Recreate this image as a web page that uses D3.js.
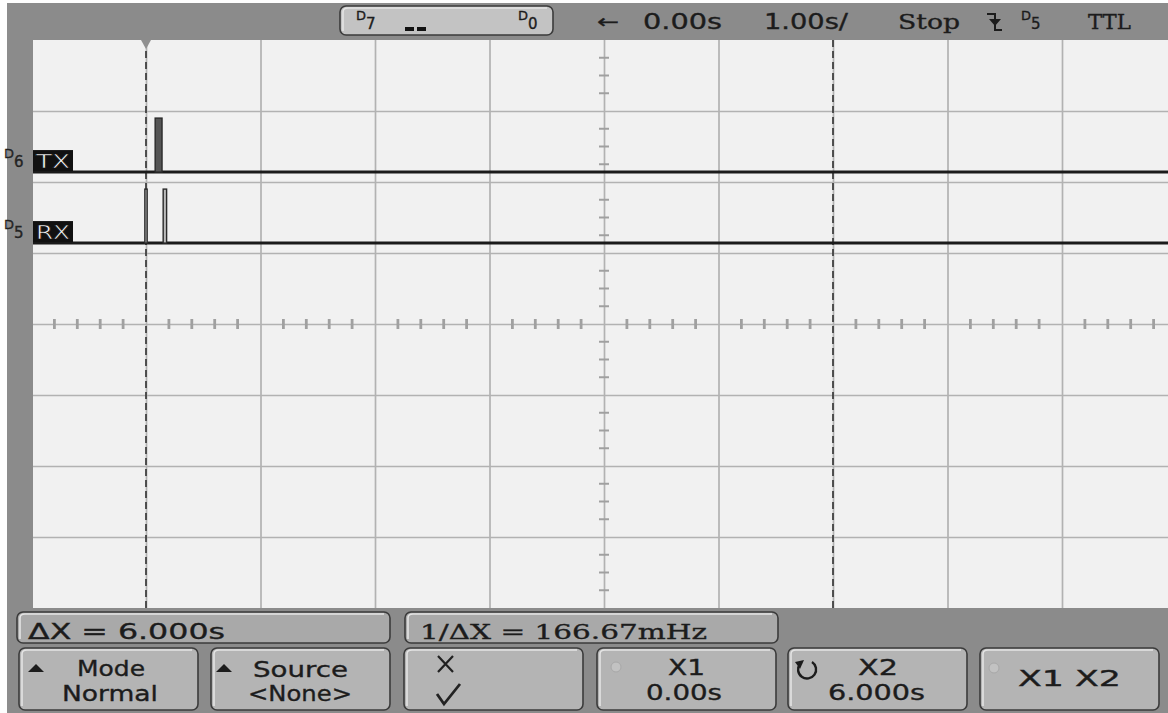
<!DOCTYPE html>
<html>
<head>
<meta charset="utf-8">
<script src="https://cdn.jsdelivr.net/npm/d3@7"></script>
<style>
  html, body { margin: 0; padding: 0; background: #fff; }
  svg { display: block; }
  text { font-family: "DejaVu Sans", sans-serif; fill: #1c1c1c; stroke: #1c1c1c; stroke-width: 0.35px; }
</style>
</head>
<body>
<div id="scope"></div>
<script>
'use strict'

// ---------- data ----------
const channelIds = ['6', '5']            // D6, D5
const channelNames = ['TX', 'RX']
// pulse edges (rise, fall) in seconds for each channel
const txPulses = [[0.08, 0.14]]
const rxPulses = [[-0.01, 0.01], [0.15, 0.18]]
const pulses = [txPulses, rxPulses]
const cursorTimes = [0, 6]               // X1, X2
const timeDomain = [-1, 9]               // 10 divisions at 1.00 s/div
const vertDomain = [-4, 4]               // 8 divisions
const topReadout = { delay: '0.00s', timebase: '1.00s/', state: 'Stop', trigSrc: '5', level: 'TTL' }
const deltaText = 'ΔX = 6.000s'
const freqText = '1/ΔX = 166.67mHz'
const softkeys = [
  ['Mode', 'Normal'], ['Source', '<None>'], ['', ''],
  ['X1', '0.00s'], ['X2', '6.000s'], ['X1 X2', '']
]

let draw = ((selector = '#scope') => {

    const W = 1168, H = 713
    const plot = { left: 31.5, right: 1176.5, top: 40, bottom: 608 }

    const svg = d3.select(selector).append('svg')
        .attr('width', W).attr('height', H)

    const x = d3.scaleLinear().domain(timeDomain).range([plot.left, plot.right])
    const y = d3.scaleLinear().domain(vertDomain).range([plot.bottom, plot.top])

    // ---------- frame ----------
    svg.append('rect').attr('width', W).attr('height', H).attr('fill', '#fdfdfd')
    svg.append('rect').attr('x', 7).attr('y', 3).attr('width', W - 7).attr('height', H - 3).attr('fill', '#8b8b8b')

    svg.append('clipPath').attr('id', 'plotclip')
        .append('rect').attr('x', 33).attr('y', plot.top)
        .attr('width', W - 33).attr('height', plot.bottom - plot.top)

    const g = svg.append('g').attr('clip-path', 'url(#plotclip)')
    g.append('rect').attr('x', 33).attr('y', plot.top)
        .attr('width', W - 33).attr('height', plot.bottom - plot.top)
        .attr('fill', '#f1f1f1')

    // ---------- grid ----------
    const gridX = d3.axisBottom(x).tickValues(d3.range(timeDomain[0] + 1, timeDomain[1] + 1))
        .tickSize(-(plot.bottom - plot.top)).tickFormat('')
    g.append('g').attr('transform', `translate(0,${plot.bottom})`).call(gridX)
        .call(a => a.select('.domain').remove())
        .selectAll('line').attr('stroke', '#b2b2b2').attr('stroke-width', 1.7)

    const gridY = d3.axisLeft(y).tickValues(d3.range(vertDomain[0] + 1, vertDomain[1]))
        .tickSize(-(W - plot.left)).tickFormat('')
    g.append('g').attr('transform', `translate(${plot.left},0)`).call(gridY)
        .call(a => a.select('.domain').remove())
        .selectAll('line').attr('stroke', '#b2b2b2').attr('stroke-width', 1.7)

    // centre axes with minor ticks
    const xMid = (timeDomain[0] + timeDomain[1]) / 2
    const minorX = d3.range(timeDomain[0], timeDomain[1] + 0.01, 0.2).filter(v => Math.abs(v - Math.round(v)) > 0.01)
    g.selectAll('.mx').data(minorX).join('line')
        .attr('x1', d => x(d)).attr('x2', d => x(d))
        .attr('y1', y(0) - 5).attr('y2', y(0) + 5)
        .attr('stroke', '#a0a0a0').attr('stroke-width', 2.8)
    const minorY = d3.range(vertDomain[0], vertDomain[1] + 0.01, 0.25).filter(v => Math.abs(v - Math.round(v)) > 0.01)
    g.selectAll('.my').data(minorY).join('line')
        .attr('x1', x(xMid) - 5).attr('x2', x(xMid) + 5)
        .attr('y1', d => y(d)).attr('y2', d => y(d))
        .attr('stroke', '#a0a0a0').attr('stroke-width', 2)

    // cursors
    g.selectAll('.cursor').data(cursorTimes).join('line')
        .attr('x1', d => x(d)).attr('x2', d => x(d))
        .attr('y1', plot.top).attr('y2', plot.bottom)
        .attr('stroke', '#3a3a3a').attr('stroke-width', 1.7)
        .attr('stroke-dasharray', '7,4')

    // trigger position marker
    svg.append('path')
        .attr('d', `M${x(0) - 5},${plot.top} L${x(0) + 5},${plot.top} L${x(0)},${plot.top + 9} Z`)
        .attr('fill', '#909090')

    // ---------- digital traces ----------
    const basePos = d => 2.14 - d        // division position of each channel's low level
    const high = 0.76                    // logic high in divisions above low

    channelNames.forEach((name, i) => {
        const lo = y(basePos(i)), hi = y(basePos(i) + high)
        g.append('line')
            .attr('x1', 33).attr('x2', W)
            .attr('y1', lo).attr('y2', lo)
            .attr('stroke', '#1a1a1a').attr('stroke-width', 3)
        g.selectAll(`.p${i}`).data(pulses[i]).join('rect')
            .attr('x', d => x(d[0])).attr('y', hi)
            .attr('width', d => Math.max(1.5, x(d[1]) - x(d[0])))
            .attr('height', lo - hi)
            .attr('fill', i === 0 ? '#555' : '#bbb')
            .attr('stroke', '#2a2a2a').attr('stroke-width', 1.4)

        // name tag and channel number
        svg.append('rect').attr('x', 33).attr('y', lo - 22)
            .attr('width', 40).attr('height', 21).attr('fill', '#111')
        svg.append('text').attr('x', 36).attr('y', lo - 4)
            .attr('textLength', 34).attr('lengthAdjust', 'spacingAndGlyphs')
            .style('font-size', '19px').style('fill', '#f4f4f4')
            .style('stroke', '#111').style('stroke-width', 0.6)
            .text(name)
        const t = svg.append('text').attr('x', 4).attr('y', lo - 14)
            .style('font-size', '13px').style('fill', '#262626')
        t.append('tspan').text('D')
        t.append('tspan').attr('dy', 9).style('font-size', '15px').text(channelIds[i])
    })

    // ---------- top status bar ----------
    const bevelBox = (x0, y0, w, h, fill) => {
        svg.append('rect').attr('x', x0).attr('y', y0).attr('width', w).attr('height', h)
            .attr('rx', 6).attr('fill', fill).attr('stroke', '#3b3b3b').attr('stroke-width', 1.6)
        svg.append('path')
            .attr('d', `M${x0 + 3},${y0 + h - 4} L${x0 + 3},${y0 + 6} Q${x0 + 3},${y0 + 2} ${x0 + 8},${y0 + 2} L${x0 + w - 6},${y0 + 2}`)
            .attr('fill', 'none').attr('stroke', '#e4e4e4').attr('stroke-width', 1.6)
    }

    bevelBox(340, 6, 213, 29, '#c3c3c3')
    const d7 = svg.append('text').attr('x', 356).attr('y', 20).style('font-size', '13px')
    d7.append('tspan').text('D')
    d7.append('tspan').attr('dy', 9).style('font-size', '15px').text('7')
    svg.append('rect').attr('x', 405).attr('y', 27).attr('width', 9).attr('height', 4).attr('fill', '#111')
    svg.append('rect').attr('x', 417).attr('y', 27).attr('width', 9).attr('height', 4).attr('fill', '#111')
    const d0 = svg.append('text').attr('x', 518).attr('y', 20).style('font-size', '13px')
    d0.append('tspan').text('D')
    d0.append('tspan').attr('dy', 9).style('font-size', '15px').text('0')

    const topText = (str, x0, w, opts = {}) => svg.append('text')
        .attr('x', x0).attr('y', opts.y || 29)
        .attr('textLength', w).attr('lengthAdjust', 'spacingAndGlyphs')
        .style('font-size', (opts.size || 21) + 'px')
        .style('font-family', opts.serif ? '"DejaVu Serif", serif' : null)
        .text(str)

    topText('←', 597, 22, { size: 19, y: 28 })
    topText(topReadout.delay, 643, 79)
    topText(topReadout.timebase, 764, 84)
    topText(topReadout.state, 898, 62, { serif: true })
    // falling edge trigger symbol
    svg.append('path')
        .attr('d', 'M987,14 L995,14 L995,30 L1002,30')
        .attr('fill', 'none').attr('stroke', '#1c1c1c').attr('stroke-width', 2)
    svg.append('path')
        .attr('d', 'M989,19 L1001,19 L995,26 Z')
        .attr('fill', '#1c1c1c')
    const d5 = svg.append('text').attr('x', 1021).attr('y', 20).style('font-size', '13px')
    d5.append('tspan').text('D')
    d5.append('tspan').attr('dy', 9).style('font-size', '15px').text(topReadout.trigSrc)
    topText(topReadout.level, 1088, 43, { serif: true })

    // ---------- bottom readouts ----------
    bevelBox(17, 612, 373, 31, '#a9a9a9')
    bevelBox(405, 612, 373, 31, '#a9a9a9')
    svg.append('text').attr('x', 28).attr('y', 639)
        .attr('textLength', 197).attr('lengthAdjust', 'spacingAndGlyphs')
        .style('font-size', '21px').text(deltaText)
    svg.append('text').attr('x', 420).attr('y', 639)
        .attr('textLength', 287).attr('lengthAdjust', 'spacingAndGlyphs')
        .style('font-size', '21px').style('font-family', '"DejaVu Serif", serif').text(freqText)

    // ---------- softkeys ----------
    const keyX = [19, 211, 404, 597, 788, 980]
    const keyW = 179
    softkeys.forEach((k, i) => {
        bevelBox(keyX[i], 648, keyW, 62, '#b4b4b4')
    })

    const label = (str, x0, w, yb) => svg.append('text').attr('x', x0).attr('y', yb)
        .attr('textLength', w).attr('lengthAdjust', 'spacingAndGlyphs')
        .style('font-size', '21px').text(str)

    const up = (cx, cy) => svg.append('path')
        .attr('d', `M${cx - 8},${cy + 4} L${cx + 8},${cy + 4} L${cx},${cy - 4} Z`).attr('fill', '#1c1c1c')

    up(36, 668)
    label(softkeys[0][0], 77, 68, 676)
    label(softkeys[0][1], 62, 96, 701)
    up(224, 668)
    label(softkeys[1][0], 253, 95, 677)
    label(softkeys[1][1], 248, 104, 701)

    // x / check key
    svg.append('path').attr('d', 'M438,656 L453,672 M453,656 L438,672')
        .attr('stroke', '#222').attr('stroke-width', 2.2).attr('fill', 'none')
    svg.append('path').attr('d', 'M437,694 L444,704 L460,684')
        .attr('stroke', '#222').attr('stroke-width', 2.8).attr('fill', 'none')

    svg.append('circle').attr('cx', 616).attr('cy', 667).attr('r', 5)
        .attr('fill', '#c2c2c2').attr('stroke', '#a8a8a8')
    label(softkeys[3][0], 668, 37, 675)
    label(softkeys[3][1], 646, 76, 700)

    // rotate icon
    svg.append('path').attr('d', 'M800,664 A9,9 0 1 0 812,662')
        .attr('fill', 'none').attr('stroke', '#1c1c1c').attr('stroke-width', 2.4)
    svg.append('path').attr('d', 'M795,662 L804,660 L800,669 Z').attr('fill', '#1c1c1c')
    label(softkeys[4][0], 858, 40, 675)
    label(softkeys[4][1], 828, 97, 700)

    svg.append('circle').attr('cx', 994).attr('cy', 668).attr('r', 5)
        .attr('fill', '#c2c2c2').attr('stroke', '#a8a8a8')
    label(softkeys[5][0], 1018, 103, 686)

})

draw()
</script>
</body>
</html>
